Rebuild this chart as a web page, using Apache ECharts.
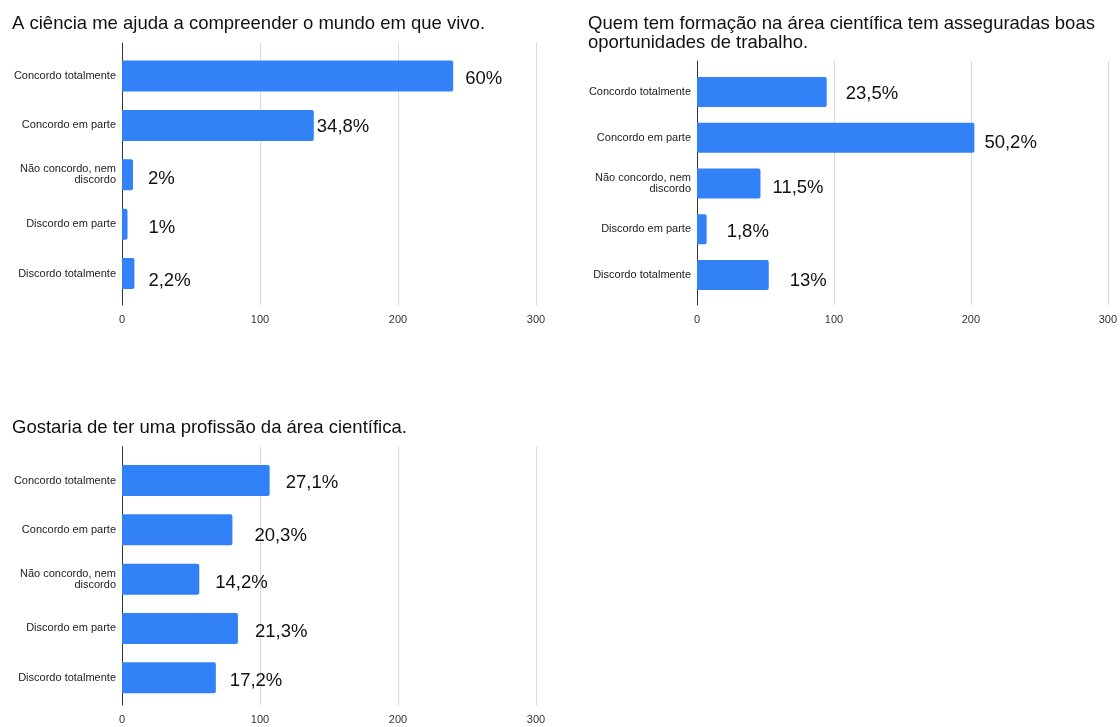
<!DOCTYPE html>
<html><head><meta charset="utf-8">
<script src="https://cdn.jsdelivr.net/npm/echarts@6/dist/echarts.min.js"></script>
<style>html,body{margin:0;padding:0;background:#fff}#c{width:1120px;height:727px}</style>
</head><body><div id="c"></div>
<script>
// ---- data ----
const categories = ['Concordo totalmente', 'Concordo em parte', 'Não concordo, nem\ndiscordo', 'Discordo em parte', 'Discordo totalmente'];
const title1 = 'A ciência me ajuda a compreender o mundo em que vivo.';
const values1 = [240, 139, 8, 4, 9];
const pct1 = ['60%', '34,8%', '2%', '1%', '2,2%'];
const title2 = 'Quem tem formação na área científica tem asseguradas boas\noportunidades de trabalho.';
const values2 = [94, 201, 46, 7, 52];
const pct2 = ['23,5%', '50,2%', '11,5%', '1,8%', '13%'];
const title3 = 'Gostaria de ter uma profissão da área científica.';
const values3 = [107, 80, 56, 84, 68];
const pct3 = ['27,1%', '20,3%', '14,2%', '21,3%', '17,2%'];
const axisMin = 0, axisMax = 300, axisStep = 100;

// ---- layout / style ----
const FONT = '"Liberation Sans", Arial, Helvetica, sans-serif';
const BAR = '#3381F7';
const layouts = [
  { title: title1, values: values1, pct: pct1, titleLeft: 12, titleTop: 14.5, left: 122, width: 414,
    barTop: 51.3, barH: 247, glTop: 43, glBottom: 305, barWidth: 31,
    dx: [12, 3, 15, 21, 14], dy: [3, 2, 4, 4, 7] },
  { title: title2, values: values2, pct: pct2, titleLeft: 588, titleTop: 14.5, left: 697, width: 414,
    barTop: 69.1, barH: 228.8, glTop: 61, glBottom: 305, barWidth: 30,
    dx: [19, 10, 12, 20, 21], dy: [2, 5, 4, 3, 6] },
  { title: title3, values: values3, pct: pct3, titleLeft: 12, titleTop: 418.5, left: 122, width: 414,
    barTop: 455.9, barH: 246.5, glTop: 446.7, glBottom: 705, barWidth: 31,
    dx: [16, 22, 16, 17, 14], dy: [2, 6, 4, 3, 3] }
];

const option = { animation: false, backgroundColor: '#fff', title: [], grid: [], xAxis: [], yAxis: [], series: [] };
layouts.forEach((L, i) => {
  option.title.push({ text: L.title, left: L.titleLeft, top: L.titleTop, padding: 0,
    textStyle: { fontFamily: FONT, fontSize: 18.5, fontWeight: 'normal', color: '#111', lineHeight: 19 } });
  // grid for gridlines / axis line / tick labels
  const gB = option.grid.length;
  option.grid.push({ left: L.left, width: L.width, top: L.glTop, height: L.glBottom - L.glTop, containLabel: false });
  option.xAxis.push({ type: 'value', gridIndex: gB, min: axisMin, max: axisMax, interval: axisStep,
    axisLine: { show: false }, axisTick: { show: false },
    axisLabel: { fontFamily: FONT, fontSize: 11, color: '#333', margin: 9 },
    splitLine: { show: true, lineStyle: { color: '#d9d9d9', width: 1 } } });
  option.yAxis.push({ type: 'value', gridIndex: gB, min: 0, max: 1,
    axisLine: { show: true, lineStyle: { color: '#333', width: 1 } }, axisTick: { show: false },
    axisLabel: { show: false }, splitLine: { show: false } });
  // grid for bars
  const gA = option.grid.length;
  option.grid.push({ left: L.left, width: L.width, top: L.barTop, height: L.barH, containLabel: false });
  const xA = option.xAxis.length;
  option.xAxis.push({ type: 'value', gridIndex: gA, min: axisMin, max: axisMax, interval: axisStep, show: false });
  const yA = option.yAxis.length;
  option.yAxis.push({ type: 'category', gridIndex: gA, data: categories, inverse: true,
    axisLine: { show: false }, axisTick: { show: false }, splitLine: { show: false },
    axisLabel: { fontFamily: FONT, fontSize: 11, color: '#222', margin: 6, lineHeight: 11, align: 'right' } });
  option.series.push({ type: 'bar', xAxisIndex: xA, yAxisIndex: yA, barWidth: L.barWidth, z: 3,
    itemStyle: { color: BAR, borderRadius: [0, 2, 2, 0] },
    data: L.values.map((v, k) => ({ value: v, label: { offset: [L.dx[k], L.dy[k]] } })),
    label: { show: true, position: 'right', distance: 0, fontFamily: FONT, fontSize: 18.5, color: '#111',
      formatter: p => L.pct[p.dataIndex] } });
});
const chart = echarts.init(document.getElementById('c'), null, { renderer: 'canvas' });
chart.setOption(option);
</script></body></html>
